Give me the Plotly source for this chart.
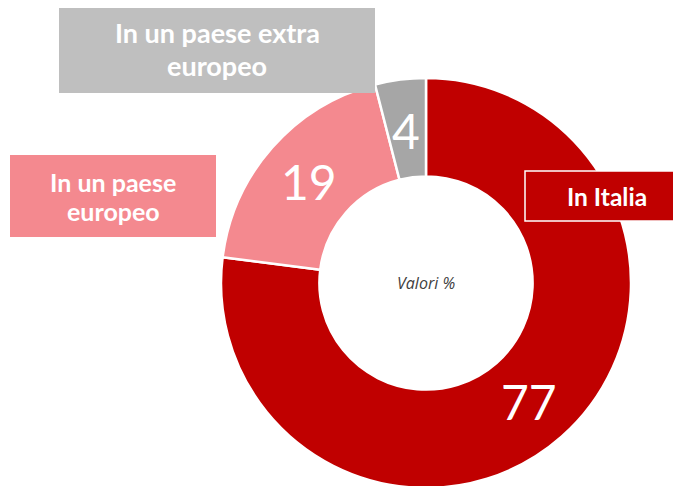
import math
import plotly.graph_objects as go

labels = ["In Italia", "In un paese europeo", "In un paese extra europeo"]
values = [77, 19, 4]
colors = ["#C00000", "#F4898F", "#A6A6A6"]
center_text = "Valori %"

W, H = 681, 486
OFF = 8  # page body margin of the html output
cx, cy, r = 426, 283, 205
HOLE = 0.52


def px(x):
    return (x - OFF) / W


def py(y):
    return 1 - (y - OFF) / H


fig = go.Figure(go.Pie(
    labels=labels, values=values, sort=False, direction="clockwise", rotation=0,
    hole=HOLE,
    marker=dict(colors=colors, line=dict(color="white", width=2.5)),
    textinfo="none",
    domain=dict(x=[px(cx - r), px(cx + r)], y=[py(cy + r), py(cy - r)]),
    showlegend=False, hoverinfo="skip",
))

annotations = []

# value labels at the middle of each slice (angle derived from the data)
total = sum(values)
cum = 0
rm = r * (1 + HOLE) / 2
for v in values:
    theta = 2 * math.pi * (cum + v / 2) / total
    cum += v
    annotations.append(dict(
        xref="paper", yref="paper",
        x=px(cx + rm * math.sin(theta)), y=py(cy - rm * math.cos(theta) + 2),
        xanchor="center", yanchor="middle", showarrow=False, text=str(v),
        font=dict(family="Lato", size=48, color="white"),
    ))

boxes = [
    # (x0, y0, x1, y1, color, border, font size, [(line text, line center y)])
    (59, 5, 375, 93, "#BFBFBF", None, 27,
     [("In un paese extra", 32.5), ("europeo", 65.5)]),
    (10, 155, 216, 237, "#F4898F", None, 25,
     [("In un paese", 182), ("europeo", 211)]),
    (525, 171, 689, 221, "#C00000", "white", 24.5,
     [("In Italia", 196.5)]),
]
shapes = []
for x0, y0, x1, y1, col, border, fs, lines in boxes:
    shapes.append(dict(
        type="rect", xref="paper", yref="paper", layer="above",
        x0=px(x0), x1=px(x1), y0=py(y1), y1=py(y0),
        fillcolor=col, line=dict(color=border or col, width=1.5 if border else 0),
    ))
    for txt, ly in lines:
        annotations.append(dict(
            xref="paper", yref="paper", x=px((x0 + x1) / 2), y=py(ly),
            xanchor="center", yanchor="middle", showarrow=False, text="<b>" + txt + "</b>",
            font=dict(family="Lato", size=fs, color="white"),
        ))

annotations.append(dict(
    xref="paper", yref="paper", x=px(cx), y=py(cy), xanchor="center", yanchor="middle",
    showarrow=False, text="<i>" + center_text + "</i>",
    font=dict(family="Open Sans", size=16, color="#404040"),
))

fig.update_layout(
    width=W, height=H, margin=dict(l=0, r=0, t=0, b=0),
    paper_bgcolor="white", plot_bgcolor="white",
    shapes=shapes, annotations=annotations,
)
fig.write_html("out.html")
